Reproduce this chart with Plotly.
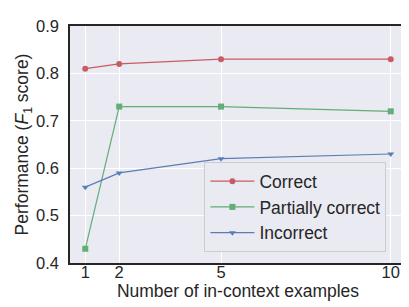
import plotly.graph_objects as go

x_vals = [1, 2, 5, 10]
correct = [0.81, 0.82, 0.83, 0.83]
partial = [0.43, 0.73, 0.73, 0.72]
incorrect = [0.56, 0.59, 0.62, 0.63]
series_names = ["Correct", "Partially correct", "Incorrect"]
y_ticks = [0.4, 0.5, 0.6, 0.7, 0.8, 0.9]

colors = ["#C44E52", "#55A868", "#4C72B0"]
symbols = ["circle", "square", "triangle-down"]

fig = go.Figure()
for name, ys, c, s in zip(series_names, [correct, partial, incorrect], colors, symbols):
    fig.add_trace(go.Scatter(x=x_vals, y=ys, name=name, mode="lines+markers",
                             legendgroup=name,
                             line=dict(color=c, width=1.2),
                             marker=dict(symbol=s, size=6, color=c),
                             opacity=0.9))

font = "Liberation Sans, Arial, sans-serif"
fig.update_layout(
    width=409, height=307,
    margin=dict(l=62, r=9, t=15, b=52),
    paper_bgcolor="white", plot_bgcolor="#EAEAF2",
    font=dict(family=font, color="#262626"),
    xaxis=dict(range=[0.55, 10.45], tickvals=x_vals, ticktext=[str(v) for v in x_vals],
               showgrid=True, gridcolor="white", gridwidth=1, zeroline=False,
               showline=True, mirror=True, linecolor="#262626", linewidth=1.5,
               tickfont=dict(size=16.5), ticks="", ticklabelstandoff=-7,
               title=dict(text="Number of in-context examples", font=dict(size=17.5), standoff=0)),
    yaxis=dict(range=[0.4, 0.9], tickvals=y_ticks, ticktext=[f"{v:.1f}" for v in y_ticks],
               showgrid=True, gridcolor="white", gridwidth=1, zeroline=False,
               showline=True, mirror=True, linecolor="#262626", linewidth=1.5,
               tickfont=dict(size=16.5), ticks="", ticklabelstandoff=6,
               title=dict(text="Performance (<i>F</i><sub>1</sub> score)", font=dict(size=17.5), standoff=3)),
    legend=dict(x=0.40, y=0.425, xanchor="left", yanchor="top",
                bgcolor="#EAEAF2", bordercolor="#CCCCCC", borderwidth=1,
                font=dict(size=17.5), itemwidth=44, tracegroupgap=0, traceorder="grouped"),
)
fig.write_html("out.html")
